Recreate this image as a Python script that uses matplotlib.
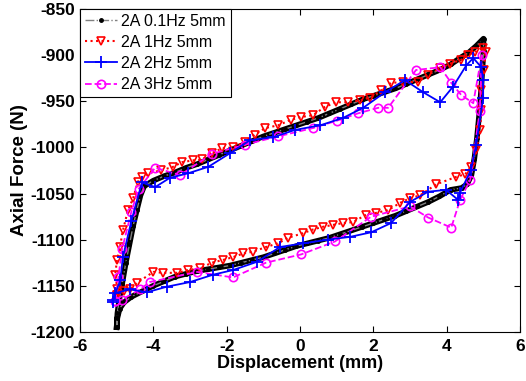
import matplotlib.pyplot as plt

# 2A 0.1Hz 5mm (dense record)
x01 = [-5.0, -4.98, -4.93, -4.85, -4.75, -4.65, -4.55, -4.45, -4.35, -4.25,
       -4.0, -3.7, -3.4, -3.1, -2.8, -2.5, -2.2, -1.9, -1.6, -1.3, -1.0, -0.7,
       -0.4, -0.1, 0.2, 0.5, 0.8, 1.1, 1.4, 1.7, 2.0, 2.3, 2.6, 2.9, 3.2, 3.5,
       3.8, 4.1, 4.4, 4.6, 4.8, 4.95, 5.0,
       5.0, 4.97, 4.93, 4.88, 4.82, 4.75, 4.67, 4.55, 4.4,
       4.1, 3.8, 3.5, 3.2, 2.9, 2.6, 2.3, 2.0, 1.7, 1.4, 1.1, 0.8, 0.5, 0.2,
       -0.1, -0.4, -0.7, -1.0, -1.3, -1.6, -1.9, -2.2, -2.5, -2.8, -3.1, -3.4,
       -3.7, -4.0, -4.3, -4.6, -4.8, -4.92, -4.98, -5.0]
f01 = [-1195, -1180, -1165, -1148, -1125, -1105, -1085, -1068, -1052, -1042,
       -1036, -1031, -1027, -1022, -1018, -1013, -1008, -1003, -998, -993, -988, -984,
       -980, -976, -972, -968, -963, -958, -953, -948, -944, -940, -936, -931, -926, -921,
       -916, -910, -902, -897, -890, -884, -882,
       -895, -915, -940, -965, -990, -1012, -1030, -1040, -1044,
       -1046, -1053, -1059, -1064, -1069, -1074, -1078, -1082, -1086, -1090, -1094, -1098, -1101, -1104,
       -1107, -1111, -1115, -1119, -1122, -1125, -1128, -1130, -1132, -1134, -1137, -1140,
       -1145, -1150, -1156, -1162, -1168, -1175, -1185, -1195]

# 2A 1Hz 5mm
x1 = [-5.0, -4.98, -5.04, -4.99, -4.91, -4.83, -4.69, -4.55, -4.42, -4.31, -4.14,
      -3.8, -3.46, -3.22, -2.92, -2.67, -2.4, -2.13, -1.83, -1.5, -1.23,
      -0.95, -0.6, -0.25, 0.03, 0.35, 0.68, 0.98, 1.31, 1.64, 1.91, 2.21, 2.48,
      2.8, 3.22, 3.49, 3.82, 4.09, 4.39, 4.58, 4.77, 4.99, 5.07,
      5.0, 4.94, 4.94, 4.91, 4.8, 4.66, 4.5,
      4.25, 3.71, 3.27, 3.0, 2.73, 2.4, 2.07, 1.8, 1.44, 1.17, 0.9, 0.63, 0.35,
      0.08, -0.33, -0.6, -0.93, -1.28, -1.55, -1.83, -2.1, -2.4, -2.73, -3.05,
      -3.35, -3.74, -4.0, -4.45, -4.64, -4.8, -5.0]
f1 = [-1160, -1153, -1138, -1122, -1108, -1090, -1068, -1055, -1037, -1032, -1028,
      -1025, -1021, -1016, -1014, -1013, -1006, -1001, -1000, -994, -986,
      -979, -976, -970, -967, -965, -956, -951, -951, -949, -946, -938, -930,
      -929, -929, -921, -914, -909, -905, -900, -896, -892, -896,
      -916, -938, -959, -981, -1003, -1021, -1029,
      -1032, -1040, -1052, -1055, -1060, -1068, -1071, -1073, -1081, -1082, -1084, -1086, -1089,
      -1093, -1098, -1104, -1108, -1113, -1115, -1119, -1122, -1125, -1131, -1133,
      -1136, -1136, -1135, -1147, -1154, -1156, -1160]

# 2A 2Hz 5mm
x2 = [-5.1, -4.9, -4.83, -4.6, -4.31, -3.95, -3.55, -3.05, -2.5, -1.9, -1.36,
      -0.74, -0.14, 0.55, 1.17, 1.72, 2.32, 2.86, 3.35, 3.82, 4.17, 4.53, 4.72,
      4.94, 4.99, 4.99, 4.8, 4.66, 4.36, 4.31, 3.98, 3.49, 3.0, 2.48, 1.94, 1.36,
      0.76, 0.08, -0.55, -1.17, -1.83, -2.37, -3.0, -3.63, -4.17, -4.64, -5.04, -5.1]
f2 = [-1165, -1144, -1119, -1080, -1038, -1043, -1033, -1028, -1021, -1006, -992,
      -989, -981, -976, -968, -957, -940, -927, -940, -951, -934, -911, -903,
      -913, -927, -946, -997, -1024, -1049, -1057, -1046, -1048, -1059, -1082, -1092, -1097,
      -1100, -1104, -1108, -1124, -1133, -1138, -1146, -1151, -1157, -1154, -1158, -1168]

# 2A 3Hz 5mm
x3 = [-5.04, -4.95, -4.85, -4.6, -4.4, -3.95, -3.27, -2.4, -1.5, -0.6, 0.35,
      1.0, 1.58, 2.13, 2.4, 3.16, 3.82, 4.12, 4.39, 4.72, 4.95, 4.9, 4.64,
      4.36, 4.12, 3.49, 3.0, 1.94, 0.95, 0.03, -0.93, -1.83, -2.8, -4.1, -4.36, -4.86, -5.04]
f3 = [-1167, -1140, -1110, -1070, -1045, -1022, -1030, -1007, -997, -988, -979,
      -971, -963, -957, -957, -916, -913, -930, -943, -952, -900, -960, -1035,
      -1057, -1087, -1076, -1064, -1075, -1102, -1116, -1125, -1141, -1135, -1146, -1154, -1165, -1167]

plt.rcParams['font.family'] = ['Liberation Sans', 'DejaVu Sans']
plt.rcParams['axes.unicode_minus'] = False
fig = plt.figure(figsize=(5.26, 3.81), dpi=100)
ax = fig.add_axes([0.152, 0.129, 0.837, 0.847])

ax.plot(x01, f01, '-', color='k', linewidth=4, zorder=2)
ax.plot(x01, f01, '-.', color='gray', marker='.', markersize=5,
        markerfacecolor='k', markeredgecolor='k', linewidth=1, label='2A 0.1Hz 5mm', zorder=2)
ax.plot(x1, f1, ':', color='red', marker='v', markersize=6, markerfacecolor='none',
        markeredgewidth=1.2, linewidth=1.5, label='2A 1Hz 5mm', zorder=3)
ax.plot(x2, f2, '-', color='blue', marker='+', markersize=8, markeredgewidth=1.3,
        linewidth=1.3, label='2A 2Hz 5mm', zorder=4)
ax.plot(x3, f3, '--', color='magenta', marker='o', markersize=6, markerfacecolor='none',
        markeredgewidth=1.2, linewidth=1.3, label='2A 3Hz 5mm', zorder=3)

ax.set_xlim(-6, 6)
ax.set_ylim(-1200, -850)
ax.set_xticks([-6, -4, -2, 0, 2, 4, 6])
ax.set_yticks([-1200, -1150, -1100, -1050, -1000, -950, -900, -850])
ax.tick_params(direction='in', top=True, right=True, labelsize=12.5, length=4)
ax.tick_params(axis='x', pad=5)
for lab in ax.get_xticklabels() + ax.get_yticklabels():
    lab.set_fontweight('bold')
ax.set_xlabel('Displacement (mm)', fontsize=13, fontweight='bold', labelpad=1)
ax.set_ylabel('Axial Force (N)', fontsize=13.5, fontweight='bold', labelpad=2)

leg = ax.legend(loc='upper left', fontsize=11.5, handlelength=2.0, borderaxespad=0,
                fancybox=False, framealpha=1, edgecolor='k', labelspacing=0.38,
                borderpad=0.3, handletextpad=0.3)
leg.get_frame().set_linewidth(0.8)

fig.savefig('out.png', dpi=100)
